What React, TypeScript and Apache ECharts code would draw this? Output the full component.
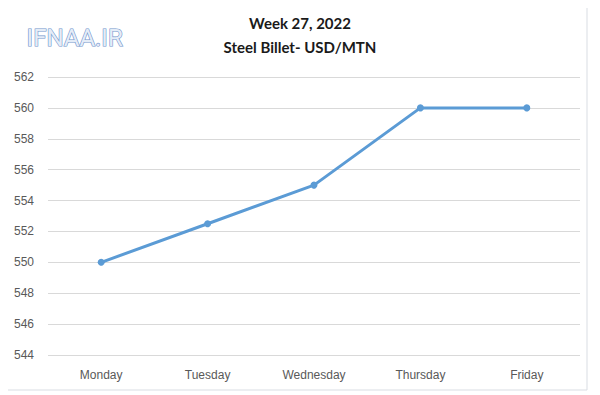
import React, { useEffect, useRef } from "react";
import * as echarts from "echarts";

const categories = ["Monday", "Tuesday", "Wednesday", "Thursday", "Friday"];
const prices = [550, 552.5, 555, 560, 560];
const titleLines = ["Week 27, 2022", "Steel Billet- USD/MTN"];
const logoText = "IFNAA.IR";

export default function App() {
  const ref = useRef<HTMLDivElement>(null);
  useEffect(() => {
    if (!ref.current) return;
    const chart = echarts.init(ref.current, null, { renderer: "svg" });
    chart.setOption({
      animation: false,
      backgroundColor: "#ffffff",
      title: {
        text: titleLines.join("\n"),
        left: "center",
        top: 6,
        textStyle: {
          fontFamily: "Lato",
          fontWeight: "bold",
          fontSize: 15,
          lineHeight: 24,
          color: "#1a1a1a",
        },
      },
      graphic: [
        {
          type: "rect",
          shape: { x: 5, y: 5, width: 582, height: 385 },
          style: { fill: "none", stroke: "#d9dde3", lineWidth: 1 },
          silent: true,
        },
        {
          type: "text",
          left: 26,
          top: 25,
          style: {
            text: logoText,
            fontFamily: "Roboto",
            fontSize: 24,
            fill: "#e4ecf7",
            stroke: "#6f93cc",
            lineWidth: 1.2,
          },
        },
      ],
      grid: { left: 48, right: 20, top: 77, bottom: 40 },
      xAxis: {
        type: "category",
        data: categories,
        boundaryGap: true,
        axisLine: { show: false },
        axisTick: { show: false },
        axisLabel: { color: "#595959", fontSize: 12, fontFamily: "Liberation Sans", margin: 14 },
      },
      yAxis: {
        type: "value",
        min: 544,
        max: 562,
        interval: 2,
        axisLine: { show: false },
        axisTick: { show: false },
        axisLabel: { color: "#595959", fontSize: 12, fontFamily: "Liberation Sans", margin: 14 },
        splitLine: { lineStyle: { color: "#d9d9d9", width: 1 } },
      },
      series: [
        {
          type: "line",
          data: prices,
          symbol: "circle",
          symbolSize: 7,
          lineStyle: { color: "#5b9bd5", width: 3 },
          itemStyle: { color: "#5b9bd5" },
        },
      ],
    });
    return () => chart.dispose();
  }, []);
  return <div ref={ref} style={{ width: 600, height: 395, marginLeft: -8, marginTop: -8 }} />;
}
